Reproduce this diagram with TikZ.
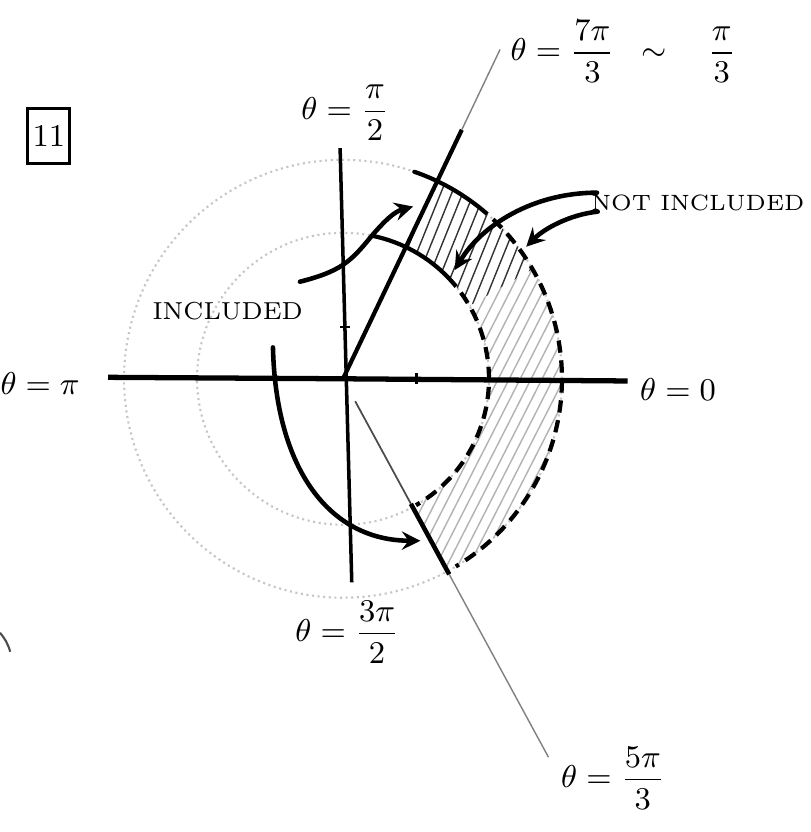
\documentclass[tikz,border=0pt]{standalone}
\usepackage{amsmath}
\usetikzlibrary{arrows}
\begin{document}
\begin{tikzpicture}[scale=0.73, >=stealth, every node/.style={font=\small},
  pen/.style={line width=1.3pt, line cap=round},
  faint/.style={gray!45, line width=0.6pt, densely dotted},
  bound/.style={line width=1.2pt, dash pattern=on 3.5pt off 2.2pt},
  hatch/.style={line width=0.4pt}]
  \useasboundingbox (-4.70,-6.21) rectangle (6.41,5.19);
  \draw[faint] (0,0) circle (2);
  \draw[faint] (0,0) circle (3);
  \begin{scope}
    \clip (30:2) arc (30:64.5:2) -- (64.5:3) arc (64.5:30:3) -- cycle;
    \foreach \x in {-1.5,-1.35,...,1.8} \draw[hatch, black!80] (\x,-3) -- ++(68:7);
  \end{scope}
  \begin{scope}
    \clip (-61.5:2) arc (-61.5:30:2) -- (30:3) arc (30:-61.5:3) -- cycle;
    \foreach \x in {-1.5,-1.35,...,1.8} \draw[hatch, gray!60] (\x,-3) -- ++(63:7);
  \end{scope}
  \draw[pen, line width=1.2pt] (78:2) arc (78:44:2);
  \draw[bound] (44:2) arc (44:-60:2);
  \draw[pen, line width=1.2pt] (71:3) arc (71:52:3);
  \draw[bound] (52:3) arc (52:-59:3);
  \draw[line width=1.5pt] (-3.22,0.02) -- (0,0) -- (3.9,-0.03);
  \draw[line width=1pt] (-0.04,3.16) -- (0.12,-2.79);
  \draw[thick] (1.01,-0.07) -- (1.01,0.08);
  \draw[thick] (-0.04,0.71) -- (0.1,0.71);
  \draw[line width=1.2pt] (0,0) -- (64.5:3.78);
  \draw[gray, line width=0.4pt] (64.5:3.78) -- (64.5:5);
  \draw[black!70, line width=0.5pt] (-61.5:0.35) -- (-61.5:1.95);
  \draw[line width=1.3pt] (-61.5:1.95) -- (-61.5:3.05);
  \draw[gray, line width=0.4pt] (-61.5:3.05) -- (-61.5:5.9);
  \draw[black!70, line width=0.6pt] (-4.70,-3.48) .. controls (-4.64,-3.55) and (-4.59,-3.63) .. (-4.56,-3.74);
  \node[draw, line width=0.8pt, minimum width=0.42cm, minimum height=0.55cm, inner sep=1pt] (qnum) at (-4.03,3.33) {11};
  \node (tpi) at (-4.15,-0.06) {$\theta = \pi$};
  \node (tzero) at (4.59,-0.15) {$\theta = 0$};
  \node (thalf) at (0.03,3.64) {$\theta = \dfrac{\pi}{2}$};
  \node (tthree) at (0.06,-3.47) {$\theta = \dfrac{3\pi}{2}$};
  \node (tfive) at (3.70,-5.47) {$\theta = \dfrac{5\pi}{3}$};
  \node (tseven) at (3.84,4.49) {$\theta = \dfrac{7\pi}{3}\;\;\sim\quad\dfrac{\pi}{3}$};
  \node[font=\scriptsize] (inc) at (-1.58,0.93) {INCLUDED};
  \node[font=\fontsize{6.3}{7}\selectfont, anchor=east, inner sep=1pt] (notinc) at (6.38,2.41) {NOT INCLUDED};
  \coordinate (inctail1) at (-0.59,1.33);
  \coordinate (inctip1) at (0.96,2.36);
  \coordinate (inctail2) at (-0.96,0.43);
  \coordinate (inctip2) at (1.06,-2.22);
  \coordinate (nottail1) at (3.48,2.55);
  \coordinate (nottip1) at (1.53,1.49);
  \coordinate (nottail2) at (3.49,2.29);
  \coordinate (nottip2) at (2.51,1.81);
  \draw[pen, ->] (inctail1) .. controls (-0.04,1.47) and (0.10,1.60) .. (0.37,1.93) .. controls (0.58,2.18) and (0.71,2.29) .. (inctip1);
  \draw[pen, ->] (inctail2) .. controls (-0.92,-1.25) and (-0.18,-2.21) .. (inctip2);
  \draw[pen, ->] (nottail1) .. controls (2.6,2.55) and (1.9,2.1) .. (nottip1);
  \draw[pen, ->] (nottail2) .. controls (3.1,2.25) and (2.75,2.05) .. (nottip2);
\end{tikzpicture}
\end{document}
